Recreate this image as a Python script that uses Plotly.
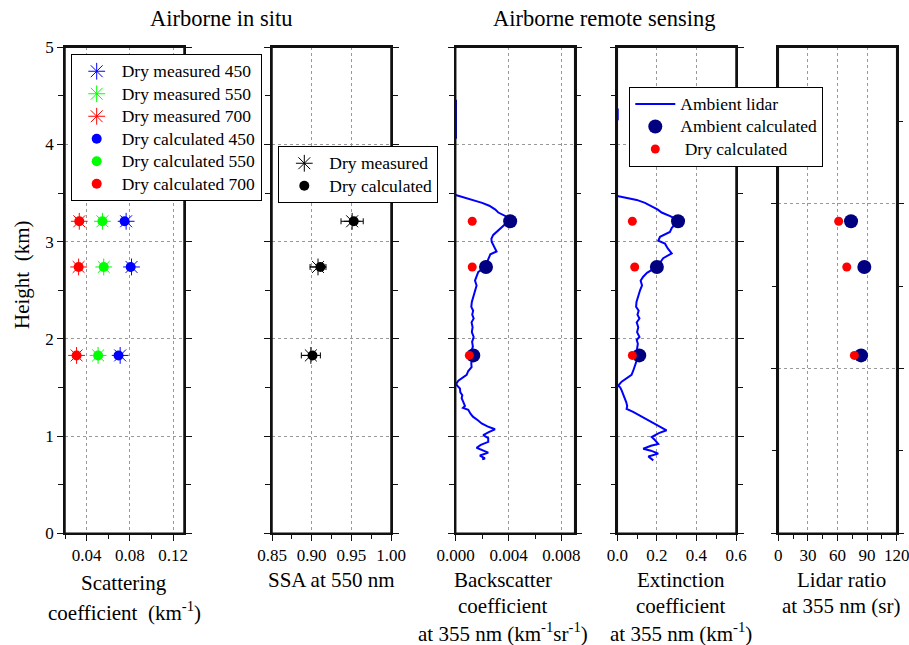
import plotly.graph_objects as go

# ---------------- data ----------------
heights = [3.21, 2.74, 1.83]

sca_meas_450 = [0.0765, 0.0815, 0.0710]
sca_meas_550 = [0.0546, 0.0558, 0.0506]
sca_meas_700 = [0.0332, 0.0326, 0.0307]
sca_calc_450 = [0.0751, 0.0807, 0.0695]
sca_calc_550 = [0.0546, 0.0558, 0.0506]
sca_calc_700 = [0.0332, 0.0326, 0.0307]

ssa_meas = [0.951, 0.908, 0.899]
ssa_err = [0.014, 0.010, 0.012]
ssa_calc = [0.953, 0.911, 0.901]

bsc_amb_calc = [0.00412, 0.00229, 0.00133]
bsc_dry_calc = [0.00125, 0.00125, 0.00103]
ext_amb_calc = [0.307, 0.200, 0.111]
ext_dry_calc = [0.076, 0.088, 0.076]
lr_amb_calc = [73.7, 87.2, 83.9]
lr_dry_calc = [61.2, 69.4, 77.1]

bsc_prof_h = [4.46, 4.06, None,
              3.48, 3.45, 3.43, 3.40, 3.37, 3.33, 3.30, 3.27, 3.24, 3.20, 3.15, 3.10, 3.07, 3.03,
              3.00, 2.95, 2.90, 2.87, 2.82, 2.78, 2.74, 2.69, 2.65, 2.60, 2.55, 2.50, 2.46, 2.42,
              2.38, 2.33, 2.29, 2.25, 2.21, 2.17, 2.12, 2.07, 2.02, 1.97, 1.92, 1.88, 1.83, 1.79,
              1.75, 1.71, 1.67, 1.63, 1.60, 1.57, 1.54, 1.52, 1.49, 1.45, 1.42, 1.39, 1.35, 1.31,
              1.29, 1.27, 1.23, 1.20, 1.16, 1.13, 1.10, 1.07, 1.04, 1.01, 0.98, 0.94, 0.91, 0.88,
              0.85, 0.83, 0.80, 0.77, 0.76]
bsc_prof = [0.00002, 0.00002, None,
            0.0, 0.0008, 0.00133, 0.0020, 0.00254, 0.0030, 0.00322, 0.0037, 0.00412, 0.0039,
            0.00347, 0.0031, 0.00284, 0.0027, 0.00272, 0.0029, 0.00309, 0.00262, 0.00245,
            0.00234, 0.00229, 0.00171, 0.0016, 0.00146, 0.00158, 0.00148, 0.00140, 0.00130,
            0.00122, 0.00118, 0.00132, 0.00125, 0.00136, 0.00120, 0.00128, 0.00122, 0.00136,
            0.00124, 0.00130, 0.00120, 0.00133, 0.00125, 0.00118, 0.00120, 0.00095, 0.00083,
            0.0005, 0.0002, 0.00005, 0.0001, 0.00032, 0.00035, 0.0005, 0.00045, 0.00058, 0.0007,
            0.00055, 0.00095, 0.00112, 0.00130, 0.00170, 0.00196, 0.0024, 0.00297, 0.0025,
            0.00208, 0.00246, 0.00246, 0.0019, 0.00158, 0.0021, 0.00246, 0.00183, 0.00221,
            0.00200]

ext_prof_h = [4.37, 4.25, None,
              3.47, 3.45, 3.43, 3.40, 3.36, 3.33, 3.30, 3.26, 3.22, 3.18, 3.14, 3.10, 3.05, 3.01,
              2.98, 2.93, 2.88, 2.83, 2.78, 2.74, 2.68, 2.64, 2.60, 2.55, 2.50, 2.46, 2.42, 2.38,
              2.33, 2.29, 2.25, 2.21, 2.17, 2.12, 2.07, 2.02, 1.99, 1.95, 1.90, 1.86, 1.83, 1.79,
              1.75, 1.71, 1.67, 1.63, 1.60, 1.56, 1.52, 1.50, 1.47, 1.43, 1.39, 1.35, 1.31, 1.28,
              1.25, 1.23, 1.20, 1.16, 1.12, 1.09, 1.06, 1.03, 0.99, 0.96, 0.92, 0.90, 0.87, 0.85,
              0.82, 0.79, 0.77, 0.75]
ext_prof = [0.002, 0.002, None,
            0.0, 0.05, 0.098, 0.14, 0.182, 0.205, 0.224, 0.27, 0.306, 0.29, 0.275, 0.266, 0.216,
            0.207, 0.241, 0.255, 0.275, 0.232, 0.215, 0.200, 0.15, 0.131, 0.118, 0.125, 0.115,
            0.108, 0.100, 0.097, 0.095, 0.108, 0.102, 0.112, 0.098, 0.106, 0.100, 0.112, 0.098,
            0.104, 0.100, 0.108, 0.111, 0.100, 0.094, 0.089, 0.080, 0.072, 0.05, 0.022, 0.005,
            0.015, 0.022, 0.03, 0.039, 0.045, 0.05, 0.047, 0.08, 0.098, 0.125, 0.157, 0.19, 0.22,
            0.249, 0.21, 0.174, 0.19, 0.207, 0.17, 0.131, 0.17, 0.207, 0.157, 0.17, 0.182]

x_titles = [
    ["Scattering", "coefficient  (km<sup>-1</sup>)"],
    ["SSA at 550 nm"],
    ["Backscatter", "coefficient", "at 355 nm (km<sup>-1</sup>sr<sup>-1</sup>)"],
    ["Extinction", "coefficient", "at 355 nm (km<sup>-1</sup>)"],
    ["Lidar ratio", "at 355 nm (sr)"],
]

# ---------------- layout helpers ----------------
W, H = 909, 645
FONT = "Liberation Serif"
panels_px = [(65, 184), (272, 391), (455.7, 574.7), (617.3, 736), (778.3, 896.7)]
y_top_px, y_bot_px = 47.3, 533.3
ydom = [(H - y_bot_px) / H, (H - y_top_px) / H]

BLUE, GREEN, RED, NAVY = "#0000FF", "#00FF00", "#FF0000", "#000080"

def lname(s):
    # legend label text drawn a little larger than the legend's row font
    return '<span style="font-size:17.5px">' + s + '</span>'

fig = go.Figure()

def star(x, name, color, xa, ya, legend):
    fig.add_trace(go.Scatter(x=x, y=heights, mode="markers", name=lname(name), xaxis=xa, yaxis=ya,
                             legend=legend,
                             marker=dict(symbol="asterisk-open", size=14, color=color,
                                         line=dict(width=1, color=color))))

def dot(x, name, color, size, xa, ya, legend, show=True):
    fig.add_trace(go.Scatter(x=x, y=heights, mode="markers", name=lname(name), xaxis=xa, yaxis=ya,
                             legend=legend, showlegend=show,
                             marker=dict(symbol="circle", size=size, color=color)))

# Panel 1
star(sca_meas_450, "Dry measured 450", BLUE, "x", "y", "legend")
star(sca_meas_550, "Dry measured 550", GREEN, "x", "y", "legend")
star(sca_meas_700, "Dry measured 700", RED, "x", "y", "legend")
dot(sca_calc_450, "Dry calculated 450", BLUE, 10, "x", "y", "legend")
dot(sca_calc_550, "Dry calculated 550", GREEN, 10, "x", "y", "legend")
dot(sca_calc_700, "Dry calculated 700", RED, 10, "x", "y", "legend")

# Panel 2
fig.add_trace(go.Scatter(x=ssa_meas, y=heights, mode="markers", name=lname("Dry measured"),
                         xaxis="x2", yaxis="y2", legend="legend2",
                         error_x=dict(type="data", array=ssa_err, color="black", thickness=1, width=3),
                         marker=dict(symbol="asterisk-open", size=14, color="black",
                                     line=dict(width=1, color="black"))))
dot(ssa_calc, "Dry calculated", "black", 10, "x2", "y2", "legend2")

# Panel 3
fig.add_trace(go.Scatter(x=bsc_prof, y=bsc_prof_h, mode="lines", name=lname("Ambient lidar"),
                         xaxis="x3", yaxis="y3", legend="legend3",
                         line=dict(color=BLUE, width=2)))
dot(bsc_amb_calc, "Ambient calculated", NAVY, 14, "x3", "y3", "legend3")
dot(bsc_dry_calc, "&nbsp;Dry calculated", RED, 9, "x3", "y3", "legend3")

# Panel 4
fig.add_trace(go.Scatter(x=ext_prof, y=ext_prof_h, mode="lines", name="Ambient lidar",
                         xaxis="x4", yaxis="y4", showlegend=False,
                         line=dict(color=BLUE, width=2)))
dot(ext_amb_calc, "Ambient calculated", NAVY, 14, "x4", "y4", "legend3", show=False)
dot(ext_dry_calc, "Dry calculated", RED, 9, "x4", "y4", "legend3", show=False)

# Panel 5
dot(lr_amb_calc, "Ambient calculated", NAVY, 14, "x5", "y5", "legend3", show=False)
dot(lr_dry_calc, "Dry calculated", RED, 9, "x5", "y5", "legend3", show=False)

# ---------------- axes ----------------
x_specs = [
    dict(range=[0.02, 0.13], tickvals=[0.04, 0.08, 0.12], ticktext=["0.04", "0.08", "0.12"],
         minor=dict(tick0=0.02, dtick=0.02)),
    dict(range=[0.85, 1.0], tickvals=[0.85, 0.90, 0.95, 1.00],
         ticktext=["0.85", "0.90", "0.95", "1.00"], minor=dict(tick0=0.85, dtick=0.025)),
    dict(range=[0, 0.009], tickvals=[0, 0.004, 0.008], ticktext=["0.000", "0.004", "0.008"],
         minor=dict(tick0=0, dtick=0.002)),
    dict(range=[0, 0.6], tickvals=[0, 0.2, 0.4, 0.6], ticktext=["0.0", "0.2", "0.4", "0.6"],
         minor=dict(tick0=0, dtick=0.1)),
    dict(range=[0, 120], tickvals=[0, 30, 60, 90, 120], ticktext=["0", "30", "60", "90", "120"],
         minor=dict(tick0=0, dtick=15)),
]

LINE = dict(showline=True, linecolor="#111", linewidth=1.5, zeroline=False, automargin=False,
            ticklen=6, tickwidth=1.2, tickcolor="#111")
GRID = dict(showgrid=True, gridcolor="#999", griddash="dot", gridwidth=1)
TICKFONT = dict(family=FONT, size=17, color="black")

layout = {}
shapes = []
for i, (x0, x1) in enumerate(panels_px):
    n = "" if i == 0 else str(i + 1)
    spec = x_specs[i]
    minor = dict(ticks="outside", ticklen=4, tickwidth=1.2, tickcolor="#111", showgrid=False)
    minor.update(spec["minor"])
    layout["xaxis" + n] = dict(domain=[x0 / W, x1 / W], anchor="y" + n, range=spec["range"],
                               tickmode="array", tickvals=spec["tickvals"],
                               ticktext=spec["ticktext"], minor=minor, ticks="outside",
                               mirror=True, tickfont=TICKFONT, ticklabeloverflow="allow",
                               **LINE, **GRID)
    if i < 4:
        yspec = dict(range=[0, 5], tickmode="linear", tick0=0, dtick=1,
                     minor=dict(ticks="outside", ticklen=5, tickwidth=1.2, tickcolor="#111",
                                tick0=0, dtick=0.5, showgrid=False))
    else:
        yspec = dict(range=[0, 5], tickmode="linear", tick0=0, dtick=1.694,
                     minor=dict(ticks="outside", ticklen=5, tickwidth=1.2, tickcolor="#111",
                                tick0=0, dtick=0.847, showgrid=False))
    layout["yaxis" + n] = dict(domain=ydom, anchor="x" + n, showticklabels=(i == 0),
                               ticks="outside", mirror="ticks", tickfont=TICKFONT,
                               **yspec, **LINE, **GRID)
    # panel frame
    shapes.append(dict(type="rect", xref="x" + n + " domain", yref="y" + n + " domain",
                       x0=0, x1=1, y0=0, y1=1, line=dict(color="#111", width=1.5),
                       fillcolor="rgba(0,0,0,0)", layer="above"))

leg_common = dict(xanchor="left", yanchor="top", bgcolor="white", bordercolor="black",
                  borderwidth=1, font=dict(family=FONT, size=15, color="black"),
                  tracegroupgap=0, itemwidth=40)
layout["legend"] = dict(x=70.7 / W, y=(H - 54) / H, **leg_common)
layout["legend2"] = dict(x=278.3 / W, y=(H - 146) / H, **leg_common)
layout["legend3"] = dict(x=629.3 / W, y=(H - 86.7) / H, **leg_common)

annotations = []
def ann(text, xpx, ypx, size=21, angle=0):
    annotations.append(dict(text=text, x=xpx / W, y=(H - ypx) / H, xref="paper", yref="paper",
                            showarrow=False, xanchor="center", yanchor="middle",
                            textangle=angle, font=dict(family=FONT, size=size, color="black")))

ann("Airborne in situ", 221, 19, size=22.5)
ann("Airborne remote sensing", 604, 19, size=22.5)
ann("Height  (km)", 22, 275, angle=-90)

title_centers = [124.5, 331.5, 503.5, 681, 841]
for i, lines in enumerate(x_titles):
    ys = [583, 611] if i == 0 else [580, 606, 632]
    for j, line in enumerate(lines):
        ann(line, title_centers[i], ys[j])

fig.update_layout(width=W, height=H, autosize=False, margin=dict(l=0, r=0, t=0, b=0),
                  plot_bgcolor="white", paper_bgcolor="white", annotations=annotations,
                  shapes=shapes, font=dict(family=FONT, size=17, color="black"), **layout)

fig.write_html("out.html", config={"displayModeBar": False},
               post_script="document.body.style.margin='0';document.body.style.padding='0';"
                           "document.body.style.overflow='hidden';")
